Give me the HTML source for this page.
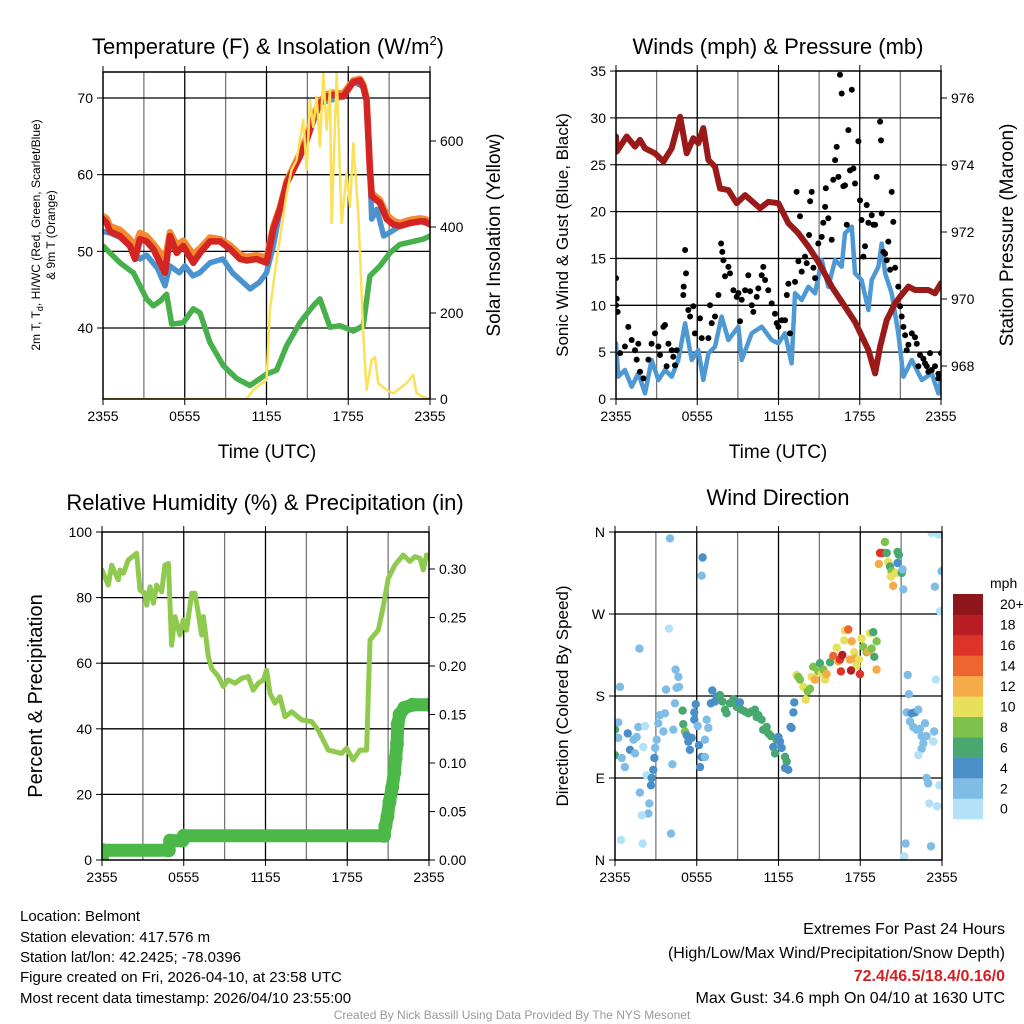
<!DOCTYPE html>
<html><head><meta charset="utf-8"><style>
html,body{margin:0;padding:0;background:#fff;}
svg{display:block;font-family:"Liberation Sans",sans-serif;}
</style></head>
<body>
<svg id="chart" width="1024" height="1024" viewBox="0 0 1024 1024" xmlns="http://www.w3.org/2000/svg">
<defs>
<clipPath id="c1"><rect x="103" y="72" width="327" height="327"/></clipPath>
<clipPath id="c2"><rect x="616" y="71" width="325" height="328"/></clipPath>
<clipPath id="c3"><rect x="102" y="532" width="327" height="328"/></clipPath>
<clipPath id="c4"><rect x="615" y="532" width="327" height="328"/></clipPath>
</defs>
<g id="grids"></g>
<g id="series"></g>
<g id="axes"></g>
<text x="268" y="54" font-size="22" text-anchor="middle">Temperature (F) &amp; Insolation (W/m<tspan font-size="13" dy="-9">2</tspan><tspan dy="9">)</tspan></text>
<text x="778" y="54" font-size="22" text-anchor="middle">Winds (mph) &amp; Pressure (mb)</text>
<text x="265" y="510" font-size="22" text-anchor="middle">Relative Humidity (%) &amp; Precipitation (in)</text>
<text x="778" y="505" font-size="22" text-anchor="middle">Wind Direction</text>
<text x="267" y="458" font-size="19" text-anchor="middle">Time (UTC)</text>
<text x="778" y="458" font-size="19" text-anchor="middle">Time (UTC)</text>
<text transform="translate(40,235) rotate(-90)" font-size="12" text-anchor="middle">2m T, T<tspan font-size="9" dy="3">d</tspan><tspan dy="-3">, HI/WC (Red, Green, Scarlet/Blue)</tspan></text>
<text transform="translate(55,235) rotate(-90)" font-size="12" text-anchor="middle">&amp; 9m T (Orange)</text>
<text transform="translate(500,235) rotate(-90)" font-size="19" text-anchor="middle">Solar Insolation (Yellow)</text>
<text transform="translate(568,235) rotate(-90)" font-size="17" text-anchor="middle">Sonic Wind &amp; Gust (Blue, Black)</text>
<text transform="translate(1013,235) rotate(-90)" font-size="19" text-anchor="middle">Station Pressure (Maroon)</text>
<text transform="translate(42,696) rotate(-90)" font-size="20" text-anchor="middle">Percent &amp; Precipitation</text>
<text transform="translate(568,696) rotate(-90)" font-size="17" text-anchor="middle">Direction (Colored By Speed)</text>
<text x="990" y="588" font-size="14">mph</text>
<g font-size="15">
<text x="20" y="921">Location: Belmont</text>
<text x="20" y="942">Station elevation: 417.576 m</text>
<text x="20" y="962">Station lat/lon: 42.2425; -78.0396</text>
<text x="20" y="982">Figure created on Fri, 2026-04-10, at 23:58 UTC</text>
<text x="20" y="1003">Most recent data timestamp: 2026/04/10 23:55:00</text>
</g>
<g font-size="16" text-anchor="end">
<text x="1005" y="934">Extremes For Past 24 Hours</text>
<text x="1005" y="958">(High/Low/Max Wind/Precipitation/Snow Depth)</text>
<text x="1005" y="981" fill="#d42020" font-weight="bold">72.4/46.5/18.4/0.16/0</text>
<text x="1005" y="1003">Max Gust: 34.6 mph On 04/10 at 1630 UTC</text>
</g>
<text x="512" y="1019" font-size="12" fill="#999" text-anchor="middle">Created By Nick Bassill Using Data Provided By The NYS Mesonet</text>
</svg>
<script>
const xTickLabels = ["2355","0555","1155","1755","2355"];
const xTickHours = [0,6,12,18,24];
const tempTicks = [40,50,60,70];
const solarTicks = [0,200,400,600];
const redT = [0,0.27,0.51,1.25,1.98,2.35,2.71,3.2,3.69,4.55,4.92,5.41,5.89,6.63,7.12,7.85,8.59,9.32,10.05,10.54,11.27,12.01,12.5,12.99,13.48,14.46,14.95,15.43,15.92,16.41,16.9,17.63,18.37,18.86,19.1,19.35,19.59,19.72,20.33,20.82,21.31,21.8,22.53,23.26,23.63,24];
const redV = [54.2,53.7,52.6,52.0,50.7,49.0,51.6,51.3,50.3,47.2,52.0,49.8,50.7,48.5,49.8,51.3,51.3,50.3,49.0,48.8,49.0,48.5,52.9,55.5,58.9,62.4,64.5,67.1,69.3,70.2,70.4,70.2,72.1,72.3,71.5,69.7,60.6,57.2,56.3,54.2,53.5,53.3,53.7,53.9,53.9,53.5];
const orangeV = [54.6,54.3,53.3,52.8,51.6,50.6,52.4,52.0,51.0,49.0,52.5,50.8,51.4,49.6,50.4,51.8,51.6,50.8,49.6,49.3,49.5,49.2,53.3,55.8,59.2,62.8,65.0,67.6,69.6,70.5,70.7,70.6,72.3,72.5,71.8,70.0,61.0,57.6,56.7,54.8,54.0,53.7,54.1,54.3,54.2,53.9];
const blueT = [0,0.5,1.25,2.0,2.7,3.2,4.0,4.55,4.9,5.6,6.0,6.6,7.1,7.85,8.8,9.5,10.8,11.5,12.0,12.5,12.99,13.48,14.46,15.92,17.63,18.37,19.1,19.35,19.59,19.72,20.1,20.6,21.0,21.8,22.5,23.3,24];
const blueV = [52.6,52.4,51.8,50.6,49.0,49.5,47.8,45.5,48.1,47.2,48.1,46.8,47.2,48.5,49.0,47.2,45.1,46.0,47.2,50.7,55.3,58.9,62.4,69.3,70.2,72.1,71.5,69.7,60.6,54.2,55.5,52.0,52.4,53.3,53.7,53.9,53.5];
const greenT = [0,1.25,2.23,3.2,3.69,4.18,4.67,5.04,5.89,6.63,7.12,7.85,8.83,9.81,10.79,11.52,12.01,12.74,13.48,14.46,15.43,15.92,16.66,17.39,18.37,19.1,19.59,20.33,21.06,21.8,22.77,23.5,24];
const greenV = [50.7,48.5,47.2,43.8,42.9,43.5,44.4,40.5,40.7,42.5,42.0,38.1,35.1,33.4,32.5,33.4,34.0,34.5,37.7,40.7,42.9,43.8,40.1,40.3,39.6,40.3,46.8,48.1,49.8,50.9,51.3,51.6,52.0];
const solarT = [0,10.54,11.03,11.52,12.01,12.25,12.74,13.48,13.84,14.21,14.7,14.95,15.19,15.43,15.68,15.92,16.17,16.41,16.66,16.78,17.15,17.51,17.88,18.13,18.37,18.74,19.1,19.35,19.72,19.96,20.2,20.82,21.31,21.8,22.28,22.77,23.02,23.5,24];
const solarV = [0,0,21,33,44,207,323,478,533,556,649,533,695,633,703,587,757,626,719,409,757,409,525,447,595,432,153,21,91,98,37,21,13,25,37,56,13,5,0];
const windTicks = [0,5,10,15,20,25,30,35];
const presTicks = [968,970,972,974,976];
const presT = [0,0.05,0.79,1.40,1.77,2.14,2.88,3.50,4.11,4.73,5.22,5.71,6.08,6.45,6.82,7.31,7.68,8.30,8.91,9.53,10.64,11.25,11.99,12.73,13.47,14.21,14.94,15.93,16.91,17.65,18.64,19.13,19.50,19.99,20.61,20.98,21.59,22.08,23.07,23.56,24];
const presV = [974.85,974.40,974.85,974.55,974.75,974.50,974.35,974.10,974.50,975.44,974.35,974.80,974.65,975.10,974.15,973.95,973.30,973.25,972.86,973.10,972.71,972.90,972.86,972.26,971.96,971.56,971.11,970.37,969.77,969.32,968.48,967.78,968.58,969.37,969.87,970.07,970.37,970.27,970.27,970.17,970.47];
const windT = [0,0.17,0.66,1.16,1.65,2.14,2.63,3.13,3.62,4.11,4.60,5.10,5.59,6.08,6.45,6.82,7.31,7.80,8.30,9.04,9.28,10.02,10.76,11.50,11.99,12.48,12.97,13.22,13.71,14.21,14.70,15.19,15.68,16.18,16.67,16.91,17.41,17.65,18.14,18.64,18.88,19.38,19.62,19.87,20.36,20.85,21.22,21.84,22.58,23.31,23.81,24];
const windV = [5.94,2.38,3.09,1.31,2.74,0.6,4.16,2.03,3.09,2.38,4.16,8.08,4.16,5.23,2.03,4.87,5.58,8.79,6.30,7.72,4.16,7.01,7.72,6.30,5.94,7.01,3.81,11.28,10.57,11.99,11.28,14.83,11.99,14.83,14.12,17.68,18.39,13.41,12.70,9.50,12.70,14.12,16.6,13.41,11.28,7.01,2.38,4.16,2.03,2.74,0.6,2.03];
const gustT = [0,0.05,0,0.12,0.66,0.30,0.91,1.16,1.40,1.65,1.53,1.77,2.02,2.39,2.63,2.88,3.13,3.25,3.50,3.62,3.74,3.87,4.11,4.23,4.36,4.48,4.97,5.10,5.17,5.00,5.34,5.47,5.71,5.83,6.20,6.33,6.82,6.94,7.07,7.31,7.56,7.76,7.85,7.93,8.05,8.30,8.42,8.67,8.91,9.04,9.16,9.28,9.53,9.77,9.90,10.02,10.14,10.39,10.51,10.76,10.88,11.01,11.25,11.50,11.74,11.87,11.99,12.24,12.48,12.61,12.73,12.85,13.22,13.34,13.47,13.59,13.71,13.96,14.08,14.26,14.33,14.45,14.58,14.70,14.94,15.19,15.31,15.44,15.49,15.68,15.93,16.05,16.18,16.30,16.42,16.54,16.67,16.79,16.91,17.04,17.16,17.28,17.41,17.53,17.65,17.90,18.02,18.14,18.27,18.39,18.51,18.64,18.88,19.01,19.13,19.25,19.50,19.57,19.62,19.75,19.87,19.99,20.11,20.24,20.36,20.48,20.61,20.85,20.98,21.10,21.22,21.35,21.59,21.84,22.08,22.21,22.45,22.70,22.82,22.95,23.19,23.31,23.56,23.81,24,23.81,23.07,22.33,21.47];
const gustV = [12.9,10.7,10.0,9.3,5.6,4.9,7.7,6.3,5.2,5.9,4.2,2.9,2.2,4.2,5.9,7.0,5.6,4.7,7.7,7.9,3.5,5.9,5.2,4.5,3.6,5.2,11.1,15.9,13.4,12.0,9.5,8.8,9.9,7.0,8.6,6.5,6.5,10.0,8.1,8.8,11.1,16.6,15.7,14.8,13.1,14.1,13.4,11.6,10.9,11.3,8.3,10.6,11.6,13.2,11.5,10.0,9.3,10.9,11.8,13.2,14.1,12.7,11.6,10.2,9.1,8.1,7.7,8.4,8.4,11.1,12.3,7.0,12.5,22.1,14.7,19.5,13.6,15.2,14.5,17.5,21.1,22.1,14.0,12.9,16.6,17.3,18.8,20.5,22.5,19.3,17.0,23.4,25.5,26.9,23.7,34.6,32.6,22.7,22.8,18.6,28.7,24.4,33.0,24.6,23.0,27.5,21.2,19.1,15.2,16.3,20.7,18.8,19.6,18.6,18.6,23.7,29.6,27.6,19.8,15.7,15.5,14.8,16.8,13.8,22.1,18.9,14.0,12.0,9.9,8.8,7.7,6.8,5.8,7.0,6.6,5.9,4.7,4.3,3.8,3.5,4.9,3.1,3.5,2.7,4.9,2.2,2.9,3.5,5.2];
const rhTicks = [0,20,40,60,80,100];
const prTicks = [0,0.05,0.10,0.15,0.20,0.25,0.30];
const prTickLabels = ["0.00","0.05","0.10","0.15","0.20","0.25","0.30"];
const rhT = [0,0.46,0.71,1.08,1.20,1.32,1.57,1.93,2.54,2.79,3.16,3.28,3.52,3.77,4.01,4.38,4.62,4.87,5.11,5.36,5.72,5.97,6.21,6.58,6.82,7.07,7.31,7.44,7.80,8.05,8.54,8.90,9.27,9.76,10.25,10.74,11.10,11.47,11.84,12.08,12.33,12.70,13.06,13.43,13.92,14.65,15.39,15.87,16.61,17.59,17.95,18.44,18.93,19.42,19.67,20.28,20.64,21.01,21.50,22.11,22.60,22.97,23.34,23.58,23.82,24];
const rhV = [88.4,83.8,89.9,86.4,85.4,88.4,87.4,91.5,93.5,82.3,81.3,77.7,83.3,78.3,83.8,81.8,89.9,90.4,65.5,74.2,68.6,73.2,70.1,81.3,81.3,75.2,68.6,74.2,62.0,58.4,55.9,52.9,54.9,53.9,55.4,55.9,51.8,53.9,54.9,57.9,50.8,47.8,49.8,43.7,45.2,42.7,42.2,39.6,33.5,32.5,34.1,30.5,33.5,33.5,67.1,70.1,77.2,85.9,89.9,93.0,91.0,92.5,92.0,88.4,93.0,92.0];
const prT = [0,0.08,4.9,5.0,5.9,6.0,20.7,20.8,20.95,21.1,21.3,21.45,21.55,21.65,21.7,21.85,22.2,22.8,24];
const prV = [0,0.010,0.010,0.020,0.020,0.025,0.025,0.035,0.045,0.060,0.075,0.090,0.105,0.120,0.140,0.150,0.157,0.160,0.160];
const dirTickLabels = ["N","E","S","W","N"];
const dirTicks = [0,90,180,270,360];
const cbLabels = ["0","2","4","6","8","10","12","14","16","18","20+"];
const cbColors = ["#b3e1f7","#80bde6","#4a8fc8","#48a870","#7dc24c","#e6e05a","#f6aa48","#ef6530","#dc3429","#b81d24","#8c1619"];
const dirT = [4.04,6.43,6.36,3.96,1.79,0.37,0,0.24,0.24,0,0.49,0.73,0.93,1.10,1.35,1.59,1.71,2.20,1.47,2.08,2.32,2.69,2.81,2.64,2.89,3.06,2.94,1.83,2.52,2.45,1.96,0.44,2.03,4.11,3.30,3.67,3.18,3.55,4.28,4.45,4.65,4.52,4.70,3.74,4.40,4.21,4.96,5.01,5.14,5.26,5.38,5.50,5.63,5.82,5.92,5.82,6.07,6.16,6.36,6.60,6.24,6.60,6.73,6.85,7.04,7.14,7.34,7.46,7.70,7.88,8.07,8.19,8.44,8.68,8.93,9.17,9.29,9.54,9.78,10.03,10.27,10.40,10.52,10.76,10.88,11.13,11.25,11.45,11.62,11.86,11.99,12.11,12.23,11.74,12.48,12.60,12.48,12.72,12.89,12.96,13.09,13.16,13.33,13.45,13.58,13.82,14.00,14.14,14.31,14.43,14.55,14.68,14.92,15.04,15.17,15.29,15.41,15.53,15.78,16.02,16.27,16.39,16.51,16.58,16.68,16.83,16.88,17.12,17.24,17.37,17.56,17.61,17.73,17.90,18.10,18.22,17.98,17.32,18.47,18.59,18.71,18.83,18.96,19.03,19.20,19.20,19.45,19.62,19.81,19.94,20.06,19.37,20.18,20.30,20.25,20.42,20.60,20.74,20.84,20.74,21.04,21.11,21.16,23.48,23.85,23.97,23.24,23.73,21.48,21.57,21.40,21.77,22.02,22.26,21.65,21.89,22.14,22.38,22.75,22.50,22.87,22.63,23.36,23.43,22.50,22.26,22.87,22.99,23.80,23.07,23.65,23.55,21.33,21.23,23.19];
const dirV = [353,332,312,254,232,190,143,151,134,115,112,102,139,121,132,135,146,147,117,124,93,90,99,82,112,132,123,74,62,51,49,22,18,29,159,161,150,141,143,209,201,189,190,187,172,105,164,149,141,137,130,121,134,154,171,162,147,126,113,113,102,132,154,145,172,186,174,179,181,174,165,161,172,176,168,173,165,163,161,163,165,157,159,154,143,146,139,136,124,132,135,130,123,117,113,108,101,99,146,145,162,173,203,201,198,190,176,185,188,201,212,198,207,216,205,209,198,204,217,224,233,218,220,207,225,241,252,253,220,240,228,221,213,220,243,234,204,208,228,229,249,232,250,223,240,209,337,337,349,337,327,325,322,317,311,301,315,338,335,326,315,319,297,300,273,317,359,357,203,182,162,161,162,165,152,146,143,144,150,136,136,128,130,141,122,115,90,84,82,62,59,198,18,4,15];
const dirSpd = [3,4,3,1,2,3,6,3,2,6,2,2,4,4,2,2,2,1,2,1,1,4,4,4,4,3,2,3,3,3,1,1,1,3,2,2,2,2,2,3,3,3,3,3,3,3,6,6,8,5,4,4,4,5,4,4,3,4,4,3,4,3,3,3,4,4,4,5,6,7,7,6,6,6,6,5,6,6,6,6,6,6,6,6,7,6,6,6,4,6,4,4,4,6,6,6,4,4,4,4,4,4,10,9,8,10,10,9,8,10,8,12,9,7,10,9,10,12,7,14,10,12,16,16,18,10,10,14,12,12,10,12,11,10,10,9,16,18,8,12,10,8,7,7,8,12,16,17,8,6,10,12,7,8,10,12,10,6,6,4,6,3,3,2,1,3,1,1,2,2,3,4,4,3,2,2,2,2,2,2,2,2,1,2,2,1,3,3,1,1,1,1,3,1];

const NS = "http://www.w3.org/2000/svg";
const gridG = document.getElementById('grids');
const serG = document.getElementById('series');
const axG = document.getElementById('axes');
function mk(tag, attrs, parent) {
  const e = document.createElementNS(NS, tag);
  for (const k in attrs) e.setAttribute(k, attrs[k]);
  parent.appendChild(e);
  return e;
}
const panels = {
  p1:{L:103,T:72,R:430,B:399},
  p2:{L:616,T:71,R:941,B:399},
  p3:{L:102,T:532,R:429,B:860},
  p4:{L:615,T:532,R:942,B:860}
};
function xS(p, t){ return p.L + t/24*(p.R-p.L); }
const yTemp = v => 98 + (70-v)*7.667;
const ySolar = w => 399 - w*0.43;
const yWind = v => 399 - v*9.37;
const yPres = p => 366 - (p-968)*33.5;
const yRH = v => 860 - v*3.28;
const yPr = v => 860 - v*970;
const yDir = d => 860 - d*0.9111;

function frame(p, name, hLines, yFn) {
  for (let h=3; h<24; h+=3) {
    const x = xS(p,h);
    const l = mk('line',{x1:x,x2:x,y1:p.T,y2:p.B,stroke: h%6===0?'#000':'#777','stroke-width':1.3},gridG);
    
    
  }
  hLines.forEach(v=>{
    const y = yFn(v);
    if (y<=p.T+1 || y>=p.B-1) return;
    const l = mk('line',{x1:p.L,x2:p.R,y1:y,y2:y,stroke:'#000','stroke-width':1.3},gridG);
    
    
  });
  const r = mk('rect',{x:p.L,y:p.T,width:p.R-p.L,height:p.B-p.T,fill:'none',stroke:'#000','stroke-width':1.5},axG);
  
  
  xTickHours.forEach((h,i)=>{
    const x = xS(p,h);
    mk('line',{x1:x,x2:x,y1:p.B,y2:p.B+6,stroke:'#000'},axG);
    mk('line',{x1:x,x2:x,y1:p.T,y2:p.T-6,stroke:'#000'},axG);
    const t = mk('text',{x:x,y:p.B+22,'font-size':14,'text-anchor':'middle'},axG);
    t.textContent = xTickLabels[i];
    
    
  });
}
function leftTicks(p, name, vals, labels, yFn) {
  vals.forEach((v,i)=>{
    const y = yFn(v);
    mk('line',{x1:p.L-6,x2:p.L,y1:y,y2:y,stroke:'#000'},axG);
    const t = mk('text',{x:p.L-10,y:y+5,'font-size':14,'text-anchor':'end'},axG);
    t.textContent = labels[i];
    
    
  });
}
function rightTicks(p, name, vals, labels, yFn) {
  vals.forEach((v,i)=>{
    const y = yFn(v);
    mk('line',{x1:p.R,x2:p.R+6,y1:y,y2:y,stroke:'#000'},axG);
    const t = mk('text',{x:p.R+10,y:y+5,'font-size':14,'text-anchor':'start'},axG);
    t.textContent = labels[i];
    
    
  });
}
function line(p, clip, ts, vs, yFn, color, w, name) {
  const pts = ts.map((t,i)=> xS(p,t).toFixed(1)+','+yFn(vs[i]).toFixed(1)).join(' ');
  const l = mk('polyline',{points:pts,fill:'none',stroke:color,'stroke-width':w,'stroke-linejoin':'round','stroke-linecap':'round','clip-path':'url(#'+clip+')'},serG);
  
  
  return l;
}
function dots(p, clip, ts, vs, yFn, colorFn, r, name) {
  const g = mk('g',{'clip-path':'url(#'+clip+')'},serG);
  
  
  ts.forEach((t,i)=>{
    const c = mk('circle',{cx:xS(p,t).toFixed(1),cy:yFn(vs[i]).toFixed(1),r:r,fill:colorFn(i)},g);
    
    
  });
}

const P1 = panels.p1;
frame(P1,'temp',tempTicks,yTemp);
leftTicks(P1,'temp',tempTicks,tempTicks.map(String),yTemp);
rightTicks(P1,'solar',solarTicks,solarTicks.map(String),ySolar);
line(P1,'c1',greenT,greenV,yTemp,'#47b04b',5.5,'dewpoint-line');
line(P1,'c1',redT,orangeV,yTemp,'#f58a2e',6.5,'temp-9m-line');
line(P1,'c1',blueT,blueV,yTemp,'#4b93cf',5.5,'windchill-line');
line(P1,'c1',redT,redV,yTemp,'#d42525',6.5,'temp-2m-line');
line(P1,'c1',solarT,solarV,ySolar,'#fbe15a',2.5,'solar-line');

const P2 = panels.p2;
frame(P2,'wind',windTicks,yWind);
leftTicks(P2,'wind',windTicks,windTicks.map(String),yWind);
rightTicks(P2,'pressure',presTicks,presTicks.map(String),yPres);
line(P2,'c2',windT,windV,yWind,'#4e98d4',4.5,'wind-speed-line');
dots(P2,'c2',gustT,gustV,yWind,()=>'#000',3,'gust-dots');
line(P2,'c2',presT,presV,yPres,'#9a1a1a',6,'pressure-line');

const P3 = panels.p3;
frame(P3,'rh',rhTicks,yRH);
leftTicks(P3,'rh',rhTicks,rhTicks.map(String),yRH);
rightTicks(P3,'precip',prTicks,prTickLabels,yPr);
line(P3,'c3',rhT,rhV,yRH,'#8fca4e',5,'rh-line');
line(P3,'c3',prT,prV,yPr,'#4cb848',13,'precip-line');
dots(P3,'c3',prT,prV,yPr,()=>'#4cb848',7,'precip-dots');

const P4 = panels.p4;
frame(P4,'dir',dirTicks,yDir);
leftTicks(P4,'dir',dirTicks,dirTickLabels,yDir);
function spdColor(i){
  const s = (dirSpd[i] === undefined) ? 2 : dirSpd[i];
  return cbColors[Math.min(10,Math.floor(s/2))];
}
dots(P4,'c4',dirT,dirV,yDir,spdColor,4.2,'direction-dots');

const cbG = mk('g',{},axG);


const cbTop = 594, cbH = 20.45;
for (let i=0;i<11;i++){
  const y = cbTop + (10-i)*cbH;
  const r = mk('rect',{x:953,y:y,width:30,height:cbH+0.3,fill:cbColors[i]},cbG);
  
  
  const t = mk('text',{x:1000,y:y+cbH/2+5,'font-size':14,'text-anchor':'start'},cbG);
  t.textContent = cbLabels[i];
  
  
}
</script>
</body></html>
